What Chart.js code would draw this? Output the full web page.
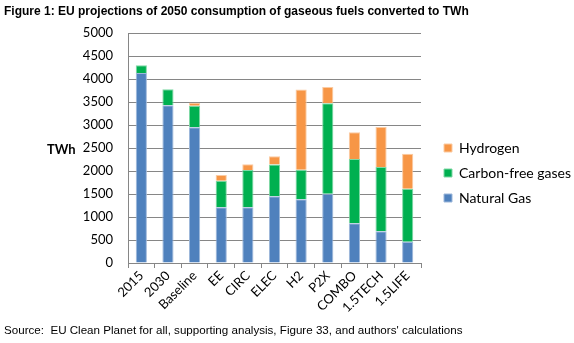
<!DOCTYPE html>
<html>
<head>
<meta charset="utf-8">
<script src="https://cdn.jsdelivr.net/npm/chart.js@4"></script>
<style>
  html, body { margin: 0; padding: 0; background: #fff; }
  #wrap { position: relative; width: 574px; height: 343px; overflow: hidden; }
  #title {
    position: absolute; left: 4px; top: 4px;
    font: bold 12px "Liberation Sans", Arial, sans-serif; color: #000;
    white-space: nowrap;
  }
  #source {
    position: absolute; left: 4px; top: 323px;
    font: 11.6px "Liberation Sans", Arial, sans-serif; color: #000;
    white-space: nowrap;
  }
  canvas { position: absolute; left: 0; top: 0; }
</style>
</head>
<body>
<div id="wrap">
  <canvas id="gasChart" width="574" height="343"></canvas>
  <div id="title">Figure 1: EU projections of 2050 consumption of gaseous fuels converted to TWh</div>
  <div id="source">Source:&nbsp; EU Clean Planet for all, supporting analysis, Figure 33, and authors' calculations</div>
</div>
<script>
// 情境類別
const categories = ['2015', '2030', 'Baseline', 'EE', 'CIRC', 'ELEC', 'H2', 'P2X', 'COMBO', '1.5TECH', '1.5LIFE'];

// 各情境數值 (TWh)
const naturalGas   = [4130, 3430, 2950, 1210, 1210, 1450, 1385, 1505, 865, 690, 460];
const carbonFree   = [170, 345, 470, 580, 810, 690, 640, 1970, 1395, 1395, 1155];
const hydrogen     = [0, 0, 65, 125, 125, 180, 1745, 350, 580, 870, 760];

// 座標軸刻度
const yTicks = [0, 500, 1000, 1500, 2000, 2500, 3000, 3500, 4000, 4500, 5000];

const FONT = 'Lato, "Open Sans", sans-serif';

// y 軸標題 "TWh"（水平）
const axisLabelPlugin = {
  id: 'axisLabel',
  afterDraw(chart) {
    const c = chart.ctx;
    c.save();
    c.font = 'bold 13px ' + FONT;
    c.fillStyle = '#000';
    c.textBaseline = 'middle';
    c.textAlign = 'left';
    c.fillText('TWh', 47, 150);
    c.restore();
  }
};

const ctx = document.getElementById('gasChart');

new Chart(ctx, {
  type: 'bar',
  data: {
    labels: categories,
    datasets: [
      {
        label: 'Natural Gas',
        data: naturalGas,
        backgroundColor: '#4F81BD',
        borderColor: '#9DB7DA',
        borderWidth: 1,
      },
      {
        label: 'Carbon-free gases',
        data: carbonFree,
        backgroundColor: '#00B050',
        borderColor: '#7FD8A5',
        borderWidth: 1,
      },
      {
        label: 'Hydrogen',
        data: hydrogen,
        backgroundColor: '#F79646',
        borderColor: '#FBCBA2',
        borderWidth: 1,
      }
    ]
  },
  options: {
    responsive: false,
    animation: false,
    datasets: {
      bar: {
        categoryPercentage: 1,
        barPercentage: 0.42
      }
    },
    layout: {
      padding: { left: 0, right: 0, top: 33, bottom: 30 }
    },
    plugins: {
      legend: {
        position: 'right',
        reverse: true,
        maxWidth: 141,
        labels: {
          boxWidth: 8,
          boxHeight: 8,
          padding: 11,
          color: '#000',
          font: { size: 14, family: FONT }
        }
      },
      tooltip: { enabled: false }
    },
    scales: {
      x: {
        stacked: true,
        afterFit: (scale) => { scale.height = 50; },
        grid: {
          offset: true,
          drawOnChartArea: false,
          drawTicks: true,
          tickLength: 5,
          color: '#868686'
        },
        border: { color: '#868686' },
        ticks: {
          maxRotation: 45,
          minRotation: 45,
          padding: 0,
          color: '#000',
          font: { size: 13, family: FONT }
        }
      },
      y: {
        stacked: true,
        min: 0,
        max: 5000,
        afterFit: (scale) => { scale.width = 128; },
        afterBuildTicks: (scale) => { scale.ticks = yTicks.map(v => ({ value: v })); },
        grid: {
          color: '#868686',
          drawTicks: false
        },
        border: { color: '#868686' },
        ticks: {
          padding: 15,
          color: '#000',
          font: { size: 13, family: FONT },
          callback: (v) => String(v)
        }
      },
      // 圖例與繪圖區之間的空白
      gap: {
        type: 'linear',
        position: 'right',
        display: true,
        afterFit: (scale) => { scale.width = 12; },
        grid: { display: false },
        border: { display: false },
        ticks: { display: false }
      }
    }
  },
  plugins: [axisLabelPlugin]
});
</script>
</body>
</html>
